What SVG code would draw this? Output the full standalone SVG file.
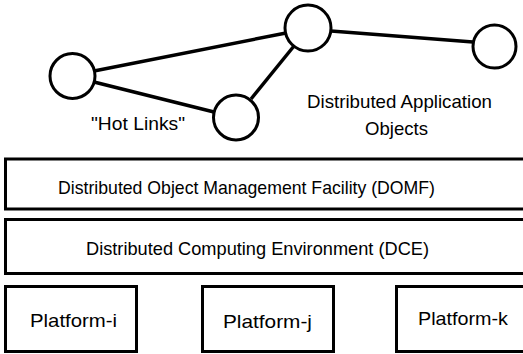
<svg xmlns="http://www.w3.org/2000/svg" width="523" height="354" viewBox="0 0 523 354">
<style>
.node{fill:#fff;stroke:#000;stroke-width:3}
.box{fill:#fff;stroke:#000;stroke-width:3}
.link{stroke:#000;stroke-width:3.5;fill:none}
text{font-family:"Liberation Sans",Arial,sans-serif;font-size:19px;fill:#000}
</style>
<rect width="523" height="354" fill="#fff"/>
<g id="connectors">
<line class="link" x1="94" y1="71" x2="286" y2="33"/>
<line class="link" x1="94" y1="82" x2="214" y2="112"/>
<line class="link" x1="251" y1="99" x2="294" y2="46"/>
<line class="link" x1="331" y1="31" x2="473" y2="42"/>
</g>
<g id="obj1"><circle class="node" cx="72.5" cy="76" r="22.5"/></g>
<g id="obj2"><circle class="node" cx="236" cy="117.5" r="22.5"/></g>
<g id="obj3"><circle class="node" cx="308" cy="28" r="23"/></g>
<g id="obj4"><circle class="node" cx="494.5" cy="46.5" r="21.5"/></g>
<g id="hotlinks"><text x="91" y="130" textLength="94" lengthAdjust="spacingAndGlyphs">"Hot Links"</text></g>
<g id="dao">
<text x="307" y="107.5" textLength="185" lengthAdjust="spacingAndGlyphs">Distributed Application</text>
<text x="365" y="135" textLength="63" lengthAdjust="spacingAndGlyphs">Objects</text>
</g>
<g id="domf">
<rect class="box" x="5.5" y="159" width="530" height="50"/>
<text x="58" y="193.5" textLength="377" lengthAdjust="spacingAndGlyphs">Distributed Object Management Facility (DOMF)</text>
</g>
<g id="dce">
<rect class="box" x="5.5" y="219.5" width="530" height="54"/>
<text x="86" y="254.5" textLength="343" lengthAdjust="spacingAndGlyphs">Distributed Computing Environment (DCE)</text>
</g>
<g id="platform-i">
<rect class="box" x="5.5" y="286.5" width="131" height="65"/>
<text x="30" y="327" textLength="87" lengthAdjust="spacingAndGlyphs">Platform-i</text>
</g>
<g id="platform-j">
<rect class="box" x="202.5" y="286.5" width="131" height="65"/>
<text x="223" y="327.5" textLength="89" lengthAdjust="spacingAndGlyphs">Platform-j</text>
</g>
<g id="platform-k">
<rect class="box" x="396.5" y="286.5" width="140" height="65"/>
<text x="418" y="325" textLength="90" lengthAdjust="spacingAndGlyphs">Platform-k</text>
</g>
</svg>
